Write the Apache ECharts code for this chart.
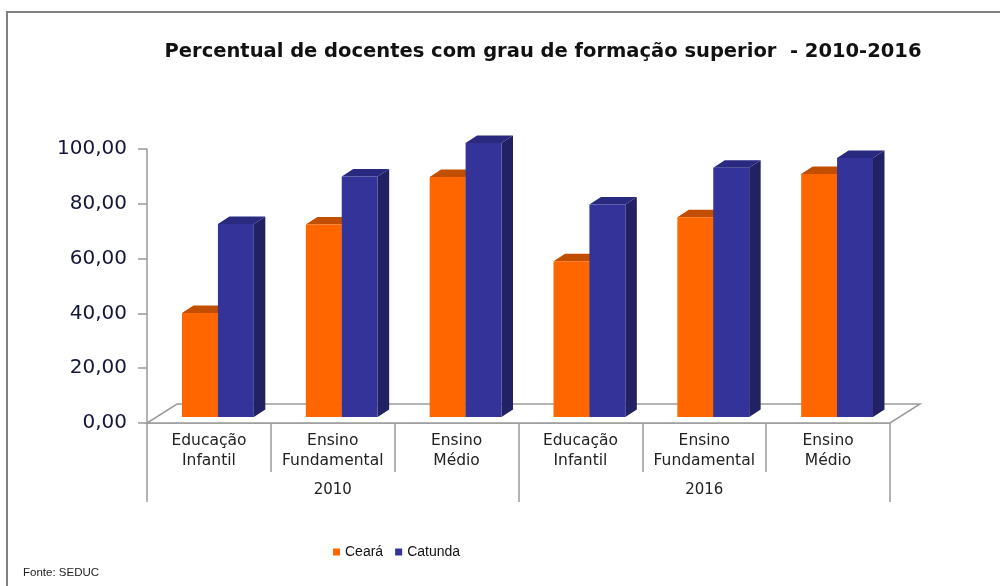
<!DOCTYPE html>
<html>
<head>
<meta charset="utf-8">
<script src="https://cdn.jsdelivr.net/npm/echarts@6/dist/echarts.min.js"></script>
<style>html,body{margin:0;padding:0;background:#fff}#c{width:1000px;height:586px}</style>
</head>
<body>
<div id="c"></div>
<script>
const categories = ['Educação\nInfantil', 'Ensino\nFundamental', 'Ensino\nMédio', 'Educação\nInfantil', 'Ensino\nFundamental', 'Ensino\nMédio'];
const years = ['2010', '2016'];
const ceara = [38.0, 70.3, 87.6, 56.8, 72.9, 88.7];
const catunda = [70.4, 87.8, 100.0, 77.6, 91.0, 94.5];
const seriesNames = ['Ceará', 'Catunda'];
const yTicks = [0, 20, 40, 60, 80, 100];

// 3D styling constants
const FLOOR_D = [30, -19];
const BAR_OFF = [9, -6];
const BAR_D = [11.5, -7.5];
const BAR_FRAC = 0.29;

const faces = {
  'Ceará': { front: '#FF6600', top: '#C24E00', side: '#A84400' },
  'Catunda': { front: '#333399', top: '#292980', side: '#212163' }
};

function barRender(name, side) {
  return function (params, api) {
    const idx = api.value(0);
    const val = api.value(1);
    const base = api.coord([idx, 0]);
    const top = api.coord([idx, val]);
    const band = api.size([1, 0])[0];
    const w = band * BAR_FRAC;
    const x0 = base[0] + (side === 0 ? -w : 0) + BAR_OFF[0];
    const x1 = x0 + w;
    const yB = base[1] + BAR_OFF[1];
    const yT = top[1] + BAR_OFF[1];
    const c = faces[name];
    return {
      type: 'group',
      children: [
        { type: 'polygon', shape: { points: [[x1, yT], [x1 + BAR_D[0], yT + BAR_D[1]], [x1 + BAR_D[0], yB + BAR_D[1]], [x1, yB]] }, style: { fill: c.side } },
        { type: 'polygon', shape: { points: [[x0, yT], [x1, yT], [x1 + BAR_D[0], yT + BAR_D[1]], [x0 + BAR_D[0], yT + BAR_D[1]]] }, style: { fill: c.top } },
        { type: 'rect', shape: { x: x0, y: yT, width: w, height: yB - yT }, style: { fill: c.front } }
      ]
    };
  };
}

function floorRender(params, api) {
  const band = api.size([1, 0])[0];
  const l = api.coord([0, 0]);
  const r = api.coord([categories.length - 1, 0]);
  const xl = l[0] - band / 2, xr = r[0] + band / 2, y = l[1];
  return {
    type: 'polygon',
    shape: { points: [[xl, y], [xr, y], [xr + FLOOR_D[0], y + FLOOR_D[1]], [xl + FLOOR_D[0], y + FLOOR_D[1]]] },
    style: { fill: '#ffffff', stroke: '#9a9a9a', lineWidth: 1.5 }
  };
}

const chart = echarts.init(document.getElementById('c'), null, { renderer: 'canvas' });
chart.setOption({
  backgroundColor: '#ffffff',
  animation: false,
  graphic: [{
    type: 'rect', shape: { x: 7, y: 12, width: 1000, height: 600 },
    style: { fill: 'none', stroke: '#808080', lineWidth: 2 }, z: -10
  }],
  title: [{
    text: 'Percentual de docentes com grau de formação superior  - 2010-2016',
    left: 538, top: 37, textAlign: 'center',
    textStyle: { fontFamily: 'DejaVu Sans', fontWeight: 'bold', fontSize: 19.5, color: '#111111' }
  }, {
    text: 'Fonte: SEDUC', left: 18, top: 562,
    textStyle: { fontFamily: 'Liberation Sans', fontWeight: 'normal', fontSize: 11.5, color: '#222222' }
  }],
  legend: {
    data: seriesNames, left: 328, top: 540, icon: 'rect',
    itemWidth: 7, itemHeight: 7, itemGap: 12,
    textStyle: { fontFamily: 'Liberation Sans', fontSize: 14, color: '#111111' }
  },
  grid: { left: 147, right: 110, top: 149, bottom: 163 },
  xAxis: [{
    type: 'category', data: categories, position: 'bottom',
    axisLine: { show: true, lineStyle: { color: '#9a9a9a', width: 1.5 } },
    axisTick: { show: true, length: 49, lineStyle: { color: '#9a9a9a', width: 1.5 } },
    axisLabel: { interval: 0, margin: 8, lineHeight: 20, fontFamily: 'DejaVu Sans', fontSize: 15.5, color: '#222222' }
  }, {
    type: 'category', data: years, position: 'bottom', offset: 0,
    axisLine: { show: false },
    axisTick: { show: true, length: 79, lineStyle: { color: '#9a9a9a', width: 1.5 } },
    axisLabel: { interval: 0, margin: 57, lineHeight: 20, fontFamily: 'DejaVu Sans', fontSize: 15, color: '#222222' }
  }],
  yAxis: {
    type: 'value', min: 0, max: 100, interval: 20,
    axisLine: { show: true, lineStyle: { color: '#9a9a9a', width: 1.5 } },
    axisTick: { show: true, length: 9, lineStyle: { color: '#9a9a9a', width: 1.5 } },
    splitLine: { show: false },
    axisLabel: {
      margin: 20, fontFamily: 'DejaVu Sans', fontSize: 20, color: '#15153a',
      formatter: v => (yTicks.indexOf(v) >= 0 ? v.toFixed(2).replace('.', ',') : '')
    }
  },
  series: [{
    type: 'custom', name: 'floor', xAxisIndex: 0, silent: true, z: 1,
    renderItem: floorRender, data: [[0, 0]]
  }, {
    type: 'custom', name: seriesNames[0], xAxisIndex: 0, z: 2,
    itemStyle: { color: faces['Ceará'].front },
    renderItem: barRender('Ceará', 0),
    data: ceara.map((v, i) => [i, v])
  }, {
    type: 'custom', name: seriesNames[1], xAxisIndex: 0, z: 3,
    itemStyle: { color: faces['Catunda'].front },
    renderItem: barRender('Catunda', 1),
    data: catunda.map((v, i) => [i, v])
  }]
});
</script>
</body>
</html>
